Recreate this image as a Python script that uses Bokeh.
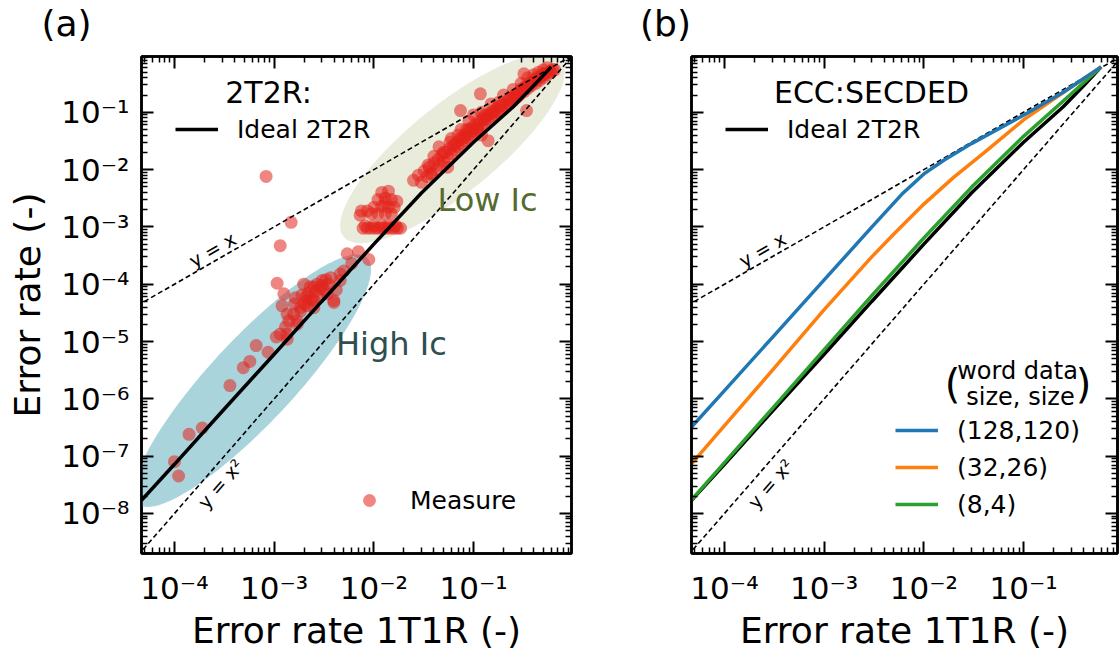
import numpy as np
from bokeh.plotting import figure
from bokeh.layouts import row, column
from bokeh.models import (FixedTicker, LogAxis, CustomJSTickFormatter, Label,
                          Legend, LegendItem)
from bokeh.embed import file_html
from bokeh.resources import INLINE

FONT = "DejaVu Sans"

# ---------------- data ----------------
x_limits_a = (4.67e-5, 0.96)
x_limits_b = (4.67e-5, 0.875)
y_limits = (2.0e-9, 0.94)

ref_x = [1e-5, 1.0]
ref_y_x = [1e-5, 1.0]
ref_y_x2 = [1e-10, 1.0]

ideal_x = [4.67e-5, 1e-4, 3e-4, 1e-3, 3e-3, 1e-2, 3e-2, 0.1, 0.25, 0.4, 0.6]
ideal_y = [1.7e-8, 7.2e-8, 6.0e-7, 6.0e-6, 5.0e-5, 5.0e-4, 3.9e-3, 0.03, 0.125, 0.29, 0.62]

ecc128_x = [4.67e-5, 1e-4, 3e-4, 1e-3, 3e-3, 6e-3, 1e-2, 1.6e-2, 3e-2, 0.1, 0.25, 0.6]
ecc128_y = [3.2e-7, 1.39e-6, 1.16e-5, 1.19e-4, 9.9e-4, 3.7e-3, 8.4e-3, 1.47e-2, 2.84e-2, 8.9e-2, 0.223, 0.62]

ecc32_x = [4.67e-5, 1e-4, 3e-4, 1e-3, 3e-3, 5e-3, 1e-2, 2e-2, 4e-2, 0.1, 0.25, 0.6]
ecc32_y = [7.3e-8, 3.4e-7, 3.1e-6, 3.6e-5, 3.0e-4, 7.5e-4, 2.5e-3, 7.4e-3, 1.95e-2, 7.36e-2, 0.221, 0.62]

ecc8_x = [4.67e-5, 1e-4, 3e-4, 1e-3, 3e-3, 1e-2, 3e-2, 0.1, 0.25, 0.4, 0.6]
ecc8_y = [1.72e-8, 7.7e-8, 6.7e-7, 7.2e-6, 6.3e-5, 6.4e-4, 4.9e-3, 3.8e-2, 0.157, 0.327, 0.62]

meas_x = [
    1.0e-4, 1.1e-4, 1.4e-4, 1.9e-4, 3.6e-4, 4.9e-4, 5.7e-4, 6.6e-4, 8.7e-4, 1.05e-3,
    1.35e-3, 1.3e-3, 1.15e-3, 1.35e-3, 1.2e-3, 1.4e-3, 1.57e-3, 1.84e-3, 2.15e-3, 2.5e-3,
    1.7e-3, 1.7e-3, 1.35e-3, 1.84e-3, 2.15e-3, 2.5e-3, 3.97e-3, 1.07e-3, 1.25e-3, 1.63e-3,
    1.98e-3, 2.5e-3, 3.03e-3, 3.4e-3, 3.97e-3, 4.6e-3, 5.0e-3, 2.2e-3, 2.8e-3, 2.3e-3,
    2.7e-3, 3.2e-3, 1.9e-3, 2.0e-3, 2.6e-3, 3.0e-3, 2.4e-3, 1.6e-3, 3.5e-3, 4.6e-3,
    5.4e-3, 7.0e-3, 8.9e-3, 6.0e-3,
    8.3e-4, 1.48e-3, 1.15e-3,
    7.8e-3, 8.6e-3, 9.4e-3, 1.03e-2, 1.12e-2, 1.22e-2, 1.33e-2, 1.45e-2, 1.58e-2, 1.72e-2,
    1.85e-2, 8.2e-3, 1.0e-2, 1.2e-2, 1.4e-2, 1.65e-2,
    7.3e-3, 7.5e-3, 8.6e-3, 9.5e-3, 1.1e-2, 1.3e-2, 1.5e-2, 1.0e-2, 1.2e-2, 1.4e-2,
    1.6e-2, 1.1e-2, 1.3e-2, 1.5e-2, 1.2e-2, 1.4e-2, 1.7e-2, 1.3e-2,
    0.025, 0.028, 0.03, 0.032, 0.034, 0.036, 0.038, 0.04, 0.042, 0.044,
    0.046, 0.048, 0.05, 0.052, 0.055, 0.057, 0.06, 0.062, 0.065, 0.068,
    0.07, 0.073, 0.076, 0.079, 0.082, 0.085, 0.088, 0.09, 0.093, 0.097,
    0.1, 0.105, 0.11, 0.115, 0.12, 0.125, 0.13, 0.135, 0.14, 0.145,
    0.15, 0.155, 0.16, 0.17, 0.175, 0.18, 0.19, 0.2, 0.21, 0.22,
    0.23, 0.24, 0.25, 0.26, 0.27, 0.28, 0.29, 0.3, 0.32, 0.33,
    0.35, 0.36, 0.38, 0.4, 0.42, 0.44, 0.46, 0.48, 0.5, 0.52,
    0.55, 0.58, 0.6, 0.62, 0.65,
    0.045, 0.06, 0.075, 0.09, 0.1, 0.07, 0.12, 0.15, 0.2, 0.25,
    0.3, 0.4, 0.5, 0.35, 0.45, 0.55,
    0.12, 0.14, 0.11, 0.055, 0.037, 0.34, 0.074, 0.117, 0.32,
    0.035, 0.05, 0.065, 0.08, 0.095, 0.11, 0.13, 0.16, 0.19, 0.23,
    0.27, 0.31, 0.37, 0.43, 0.49, 0.04, 0.058, 0.085, 0.13, 0.18,
    2.9e-3, 3.3e-3, 2.1e-3, 3.7e-3, 4.2e-3,
]
meas_y = [
    8.0e-8, 4.5e-8, 2.4e-7, 3.1e-7, 1.7e-6, 3.5e-6, 4.5e-6, 8.5e-6, 6.5e-6, 1.2e-5,
    1.1e-5, 1.8e-5, 1.35e-5, 1.35e-5, 4.2e-5, 2.3e-5, 3.0e-5, 3.4e-5, 4.2e-5, 5.2e-5,
    2.3e-5, 2.0e-5, 3.0e-5, 3.9e-5, 5.2e-5, 3.9e-5, 4.8e-5, 1.04e-4, 6.8e-5, 5.8e-5,
    1.0e-4, 8.9e-5, 1.16e-4, 6.8e-5, 5.2e-5, 1.16e-4, 1.7e-4, 7.0e-5, 6.0e-5, 9.0e-5,
    1.0e-4, 8.0e-5, 6.5e-5, 4.5e-5, 7.5e-5, 9.5e-5, 5.5e-5, 4.5e-5, 1.0e-4, 1.5e-4,
    3.4e-4, 3.7e-4, 2.7e-4, 2.3e-4,
    7.6e-3, 1.2e-3, 4.7e-4,
    9.5e-4, 9.5e-4, 9.5e-4, 9.5e-4, 9.5e-4, 9.5e-4, 9.5e-4, 9.5e-4, 9.5e-4, 9.5e-4,
    9.5e-4, 1.05e-3, 1.05e-3, 1.05e-3, 1.05e-3, 1.05e-3,
    1.6e-3, 1.9e-3, 1.9e-3, 1.7e-3, 1.7e-3, 1.7e-3, 1.7e-3, 2.2e-3, 2.3e-3, 2.2e-3,
    2.2e-3, 3.0e-3, 3.2e-3, 3.0e-3, 4.0e-3, 4.2e-3, 2.8e-3, 2.6e-3,
    6.5e-3, 8.0e-3, 6.0e-3, 9.5e-3, 7.5e-3, 0.011, 8.5e-3, 0.013, 0.01, 0.015,
    0.012, 0.018, 0.014, 0.02, 0.016, 0.023, 0.019, 0.026, 0.022, 0.03,
    0.025, 0.034, 0.028, 0.038, 0.032, 0.042, 0.036, 0.05, 0.04, 0.055,
    0.045, 0.062, 0.052, 0.07, 0.06, 0.078, 0.066, 0.088, 0.075, 0.095,
    0.085, 0.105, 0.092, 0.115, 0.1, 0.128, 0.11, 0.14, 0.125, 0.16,
    0.14, 0.18, 0.16, 0.2, 0.18, 0.22, 0.2, 0.25, 0.23, 0.28,
    0.26, 0.31, 0.29, 0.35, 0.32, 0.39, 0.36, 0.43, 0.4, 0.47,
    0.45, 0.52, 0.5, 0.56, 0.55,
    0.025, 0.035, 0.05, 0.07, 0.09, 0.04, 0.1, 0.14, 0.2, 0.25,
    0.32, 0.45, 0.55, 0.4, 0.5, 0.6,
    0.04, 0.032, 0.05, 0.011, 8.4e-3, 0.107, 0.107, 0.21, 0.47,
    0.012, 0.02, 0.027, 0.036, 0.047, 0.058, 0.075, 0.1, 0.13, 0.17,
    0.21, 0.26, 0.33, 0.4, 0.46, 0.017, 0.03, 0.05, 0.09, 0.15,
    8.5e-5, 1.2e-4, 6.0e-5, 1.3e-4, 8.0e-5,
]

# ellipses (centre in data units, semi-axes in screen pixels, angle in degrees)
high_ic_center = (6.05e-4, 2.07e-6)
high_ic_axes = (168, 42)
high_ic_angle = 47
low_ic_center = (6.14e-2, 2.32e-2)
low_ic_axes = (140, 44)
low_ic_angle = 39

panel_tags = ["(a)", "(b)"]

# ---------------- helpers ----------------
XPD, YPD = 99.7, 57.3  # screen pixels per decade


def ellipse_pts(center, axes, ang):
    t = np.linspace(0, 2 * np.pi, 240)
    th = np.radians(ang)
    a, b = axes
    u = np.log10(center[0]) * XPD + a * np.cos(t) * np.cos(th) - b * np.sin(t) * np.sin(th)
    v = np.log10(center[1]) * YPD + a * np.cos(t) * np.sin(th) + b * np.sin(t) * np.cos(th)
    return list(10 ** (u / XPD)), list(10 ** (v / YPD))


SUP_JS = """
const m = {"-": "\\u207b", "0": "\\u2070", "1": "\\u00b9", "2": "\\u00b2", "3": "\\u00b3",
           "4": "\\u2074", "5": "\\u2075", "6": "\\u2076", "7": "\\u2077", "8": "\\u2078", "9": "\\u2079"};
const e = Math.round(Math.log10(tick));
return "10" + String(e).split("").map(c => m[c]).join("");
"""

x_major = [10.0 ** k for k in range(-5, 1)]
x_minor = [m * 10.0 ** k for k in range(-5, 0) for m in range(2, 10)]
y_major = [10.0 ** k for k in range(-9, 1)]
y_minor = [m * 10.0 ** k for k in range(-9, 0) for m in range(2, 10)]


def style_axis(ax, major, minor, show_labels):
    ax.ticker = FixedTicker(ticks=major, minor_ticks=minor)
    ax.axis_line_width = 2.5
    ax.axis_line_color = "black"
    ax.major_tick_in = 12
    ax.major_tick_out = 0
    ax.minor_tick_in = 6
    ax.minor_tick_out = 0
    ax.major_tick_line_width = 2
    ax.minor_tick_line_width = 1.5
    ax.major_tick_line_color = "black"
    ax.minor_tick_line_color = "black"
    if show_labels:
        ax.formatter = CustomJSTickFormatter(code=SUP_JS)
        ax.major_label_text_font = FONT
        ax.major_label_text_font_size = "31px"
        ax.major_label_text_color = "black"
    else:
        ax.formatter = CustomJSTickFormatter(code="return '';")
        ax.major_label_standoff = 0


def make_fig(x_limits, left, frame_w, right, y_labels):
    p = figure(x_axis_type="log", y_axis_type="log", x_range=x_limits, y_range=y_limits,
               frame_width=frame_w, frame_height=497, min_border_left=left,
               min_border_right=right, min_border_top=11, min_border_bottom=98,
               output_backend="svg", toolbar_location=None)
    p.xgrid.visible = False
    p.ygrid.visible = False
    p.outline_line_color = "black"
    p.outline_line_width = 2.5
    style_axis(p.xaxis[0], x_major, x_minor, True)
    style_axis(p.yaxis[0], y_major, y_minor, y_labels)
    p.xaxis[0].major_label_standoff = 16
    if y_labels:
        p.yaxis[0].major_label_standoff = 12
        p.yaxis[0].axis_label = "Error rate (-)"
        p.yaxis[0].axis_label_text_font = FONT
        p.yaxis[0].axis_label_text_font_size = "36px"
        p.yaxis[0].axis_label_text_font_style = "normal"
        p.yaxis[0].axis_label_text_color = "black"
        p.yaxis[0].axis_label_standoff = 10
    p.xaxis[0].axis_label = "Error rate 1T1R (-)"
    p.xaxis[0].axis_label_text_font = FONT
    p.xaxis[0].axis_label_text_font_size = "36px"
    p.xaxis[0].axis_label_text_font_style = "normal"
    p.xaxis[0].axis_label_text_color = "black"
    p.xaxis[0].axis_label_standoff = 1
    ra = LogAxis()
    style_axis(ra, y_major, y_minor, False)
    p.add_layout(ra, "right")
    ta = LogAxis()
    style_axis(ta, x_major, x_minor, False)
    p.add_layout(ta, "above")
    return p


def text(p, s, x, y, size, color="black", angle=0.0, units="data", align="center"):
    p.add_layout(Label(x=x, y=y, x_units=units, y_units=units, text=s, text_font=FONT,
                       text_font_size=size, text_color=color, angle=angle,
                       text_align=align, text_baseline="middle"))


def style_legend(lg, gw, gh, st):
    lg.label_text_font = FONT
    lg.label_text_font_size = "25px"
    lg.label_text_color = "black"
    lg.glyph_width = gw
    lg.glyph_height = gh
    lg.label_height = gh
    lg.label_standoff = st
    lg.padding = 0
    lg.margin = 0
    lg.border_line_alpha = 0
    lg.background_fill_alpha = 0


ANG1 = np.arctan(YPD / XPD)
ANG2 = np.arctan(2 * YPD / XPD)

# ---------------- header with panel tags ----------------
hdr = figure(width=1120, height=45, x_range=(0, 1120), y_range=(0, 45), min_border=0,
             output_backend="svg", toolbar_location=None)
hdr.xaxis.visible = False
hdr.yaxis.visible = False
hdr.grid.visible = False
hdr.outline_line_color = None
text(hdr, panel_tags[0], 66, 22, "36px")
text(hdr, panel_tags[1], 665, 22, "36px")

# ---------------- panel (a) ----------------
pa = make_fig(x_limits_a, 141, 430, 49, True)
ex, ey = ellipse_pts(high_ic_center, high_ic_axes, high_ic_angle)
pa.patch(ex, ey, fill_color="#a9d4dc", line_alpha=0)
ex, ey = ellipse_pts(low_ic_center, low_ic_axes, low_ic_angle)
pa.patch(ex, ey, fill_color="#e9ebdb", line_alpha=0)
r_meas = pa.scatter(meas_x, meas_y, size=13, fill_color="#e3221c", fill_alpha=0.55, line_alpha=0)
pa.line(ref_x, ref_y_x, line_color="black", line_width=1.6, line_dash="5 3")
pa.line(ref_x, ref_y_x2, line_color="black", line_width=1.6, line_dash="5 3")
r_ideal_a = pa.line(ideal_x, ideal_y, line_color="black", line_width=3.5)

text(pa, "y = x", 2.40e-4, 4.0e-4, "19px", angle=ANG1)
text(pa, "y = x\u00b2", 2.89e-4, 3.3e-8, "19px", angle=ANG2)
text(pa, "Low Ic", 0.138, 2.9e-3, "32px", color="#556b2f")
text(pa, "High Ic", 0.0150, 9.1e-6, "32px", color="#2f4f4f")
text(pa, "2T2R:", 127, 461, "30px", units="screen")

leg_a = Legend(items=[LegendItem(label="Ideal 2T2R", renderers=[r_ideal_a])],
               location=(34, 409))
style_legend(leg_a, 43, 30, 19)
pa.add_layout(leg_a)
leg_m = Legend(items=[LegendItem(label="Measure", renderers=[r_meas])], location=(212, 37))
style_legend(leg_m, 32, 32, 25)
pa.add_layout(leg_m)

# ---------------- panel (b) ----------------
pb = make_fig(x_limits_b, 71, 426, 3, False)
pb.line(ref_x, ref_y_x, line_color="black", line_width=1.6, line_dash="5 3")
pb.line(ref_x, ref_y_x2, line_color="black", line_width=1.6, line_dash="5 3")
r_ideal_b = pb.line(ideal_x, ideal_y, line_color="black", line_width=3.5)
r8 = pb.line(ecc8_x, ecc8_y, line_color="#2ca02c", line_width=3.5)
r32 = pb.line(ecc32_x, ecc32_y, line_color="#ff7f0e", line_width=3.5)
r128 = pb.line(ecc128_x, ecc128_y, line_color="#1f77b4", line_width=3.5)

text(pb, "y = x", 2.40e-4, 4.0e-4, "19px", angle=ANG1)
text(pb, "y = x\u00b2", 2.89e-4, 3.3e-8, "19px", angle=ANG2)
text(pb, "ECC:SECDED", 180, 461, "30px", units="screen")
text(pb, "word data", 326, 183, "24px", units="screen")
text(pb, "size, size", 329, 157, "24px", units="screen")
text(pb, "(", 261, 170, "40px", units="screen")
text(pb, ")", 392, 170, "40px", units="screen")

leg_b = Legend(items=[LegendItem(label="Ideal 2T2R", renderers=[r_ideal_b])],
               location=(34, 409))
style_legend(leg_b, 43, 30, 19)
pb.add_layout(leg_b)
leg_e = Legend(items=[LegendItem(label="(128,120)", renderers=[r128]),
                      LegendItem(label="(32,26)", renderers=[r32]),
                      LegendItem(label="(8,4)", renderers=[r8])],
               location=(204, 34), spacing=7)
style_legend(leg_e, 43, 30, 19)
pb.add_layout(leg_e)

layout = column(hdr, row(pa, pb))
with open("out.html", "w", encoding="utf-8") as f:
    f.write(file_html(layout, INLINE))
